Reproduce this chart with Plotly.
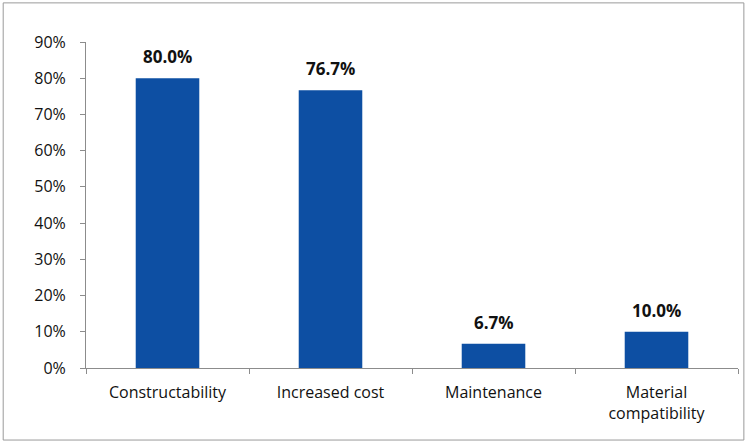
import plotly.graph_objects as go

categories = ["Constructability", "Increased cost", "Maintenance", "Material<br>compatibility"]
shares = [0.800, 0.767, 0.067, 0.100]
label_text = ["80.0%", "76.7%", "6.7%", "10.0%"]

BAR_COLOR = "#0D4FA3"
FONT = "Open Sans, Liberation Sans, sans-serif"

fig = go.Figure(
    go.Bar(
        x=categories,
        y=shares,
        marker=dict(color=BAR_COLOR, line=dict(width=0)),
        hoverinfo="x+y",
    )
)

# value labels sit a bit higher above the bars than plotly's "outside" text
for cat, val, txt in zip(categories, shares, label_text):
    fig.add_annotation(
        x=cat, y=val, text=f"<b>{txt}</b>", showarrow=False,
        yanchor="bottom", yshift=8,
        font=dict(family=FONT, size=17, color="#111111"),
    )

fig.update_layout(
    width=747,
    height=445,
    paper_bgcolor="#FFFFFF",
    plot_bgcolor="#FFFFFF",
    margin=dict(l=86, r=9, t=42, b=77),
    bargap=0.61,
    showlegend=False,
    font=dict(family=FONT, size=16, color="#111111"),
    xaxis=dict(
        automargin=False,
        showline=True,
        linecolor="#8C8C8C",
        linewidth=1,
        ticks="outside",
        tickson="boundaries",
        ticklen=5,
        tickcolor="#8C8C8C",
        showgrid=False,
        ticklabelstandoff=10,
        tickfont=dict(size=16),
    ),
    yaxis=dict(
        automargin=False,
        range=[0, 0.9],
        dtick=0.1,
        tickformat=".0%",
        showline=True,
        linecolor="#8C8C8C",
        linewidth=1,
        ticks="outside",
        ticklen=5,
        tickcolor="#8C8C8C",
        showgrid=False,
        zeroline=False,
        ticklabelstandoff=11,
        tickfont=dict(size=16),
    ),
    shapes=[
        dict(
            type="rect",
            xref="paper",
            yref="paper",
            x0=-0.127,
            x1=1.009,
            y0=-0.221,
            y1=1.12,
            line=dict(color="#9A9A9A", width=1),
            fillcolor="rgba(0,0,0,0)",
            layer="below",
        )
    ],
)

fig.write_html(
    "out.html",
    config={"displayModeBar": False},
    post_script="document.body.style.margin='0';",
)
